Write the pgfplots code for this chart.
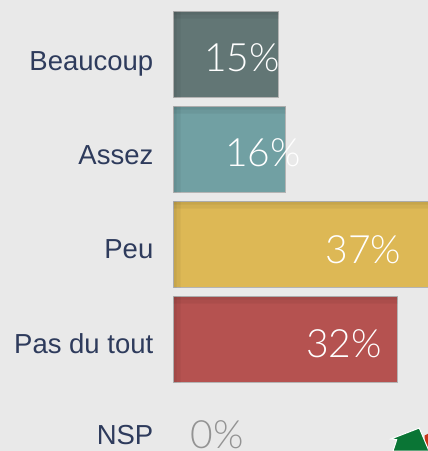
\documentclass[border=0pt]{standalone}
\usepackage{fontspec}
\setmainfont{Liberation Sans}
\newfontfamily\pctfont{Lato Light}
\usepackage{pgfplots}
\pgfplotsset{compat=1.18}
\definecolor{bgc}{HTML}{E9E9E9}
\definecolor{labc}{HTML}{2E3B5C}
\definecolor{cbeau}{HTML}{627675}
\definecolor{cassez}{HTML}{71A0A3}
\definecolor{cpeu}{HTML}{DDB855}
\definecolor{cpas}{HTML}{B55250}
\definecolor{edgec}{HTML}{B4B4B4}
\definecolor{logog}{HTML}{0A7535}
\definecolor{logor}{HTML}{C8361A}
\pgfplotsset{
    onebar/.style={xbar, bar shift=0pt, bar width=86pt, fill=#1, draw=edgec, line width=0.7pt},
    pct/.style={draw=none, no markers, nodes near coords, point meta=explicit symbolic,
        every node near coord/.style={anchor=east, inner sep=0pt, xshift=4pt, yshift=-3pt, text=#1,
            font=\pctfont\fontsize{39}{40}\selectfont}},
}
\begin{document}
\begin{tikzpicture}
\begin{axis}[
    scale only axis,
    width=428pt, height=451pt,
    xmin=-24.786, xmax=36.357,
    ymin=-0.576, ymax=4.172,
    y dir=reverse,
    axis background/.style={fill=bgc},
    axis line style={draw=none},
    major tick style={draw=none},
    major tick length=0pt,
    xtick=\empty,
    ytick={0,1,2,3,4},
    yticklabels={Beaucoup,\raisebox{1pt}{Assez},\raisebox{2pt}{Peu},\raisebox{2.5pt}{Pas du tout},\raisebox{6pt}{NSP}},
    yticklabel style={anchor=base east, xshift=153.5pt, yshift=-16pt, inner sep=0pt, text=labc,
        font=\fontsize{27.5}{30}\selectfont},
    clip=true,
]
\addplot[onebar=cbeau] coordinates {(15,0)};
\addplot[onebar=cassez] coordinates {(16,1)};
\addplot[onebar=cpeu] coordinates {(37,2)};
\addplot[onebar=cpas] coordinates {(32,3)};
% inner shadow, top and left, two layers each
\addplot[xbar, fill=black, fill opacity=0.05, draw=none, bar width=7pt, bar shift=39.5pt] coordinates {(15,0) (16,1) (37,2) (32,3)};
\addplot[xbar, fill=black, fill opacity=0.05, draw=none, bar width=3pt, bar shift=41.5pt] coordinates {(15,0) (16,1) (37,2) (32,3)};
\addplot[xbar, bar shift=0pt, bar width=86pt, fill=black, fill opacity=0.05, draw=none] coordinates {(1.0,0) (1.0,1) (1.0,2) (1.0,3)};
\addplot[xbar, bar shift=0pt, bar width=86pt, fill=black, fill opacity=0.05, draw=none] coordinates {(0.45,0) (0.45,1) (0.45,2) (0.45,3)};
% value labels, right edge of the text given as x
\addplot[pct=white] coordinates {(14.64,0)[15\%] (17.64,1)[16\%] (32.0,2.02)[37\%] (29.2,3.01)[32\%]};
\addplot[pct=gray!85] coordinates {(9.5,3.97)[0\%]};
% corner of the logo
\addplot[fill=logor, draw=none] coordinates {(35.86,4.01) (36.36,3.99) (36.36,4.172) (35.86,4.172)} -- cycle;
\addplot[fill=logog, draw=white, line width=1pt] coordinates {(31.07,4.045) (35.11,3.93) (36.5,4.172) (31.36,4.172) (31.89,4.053)} -- cycle;
\end{axis}
\end{tikzpicture}
\end{document}
